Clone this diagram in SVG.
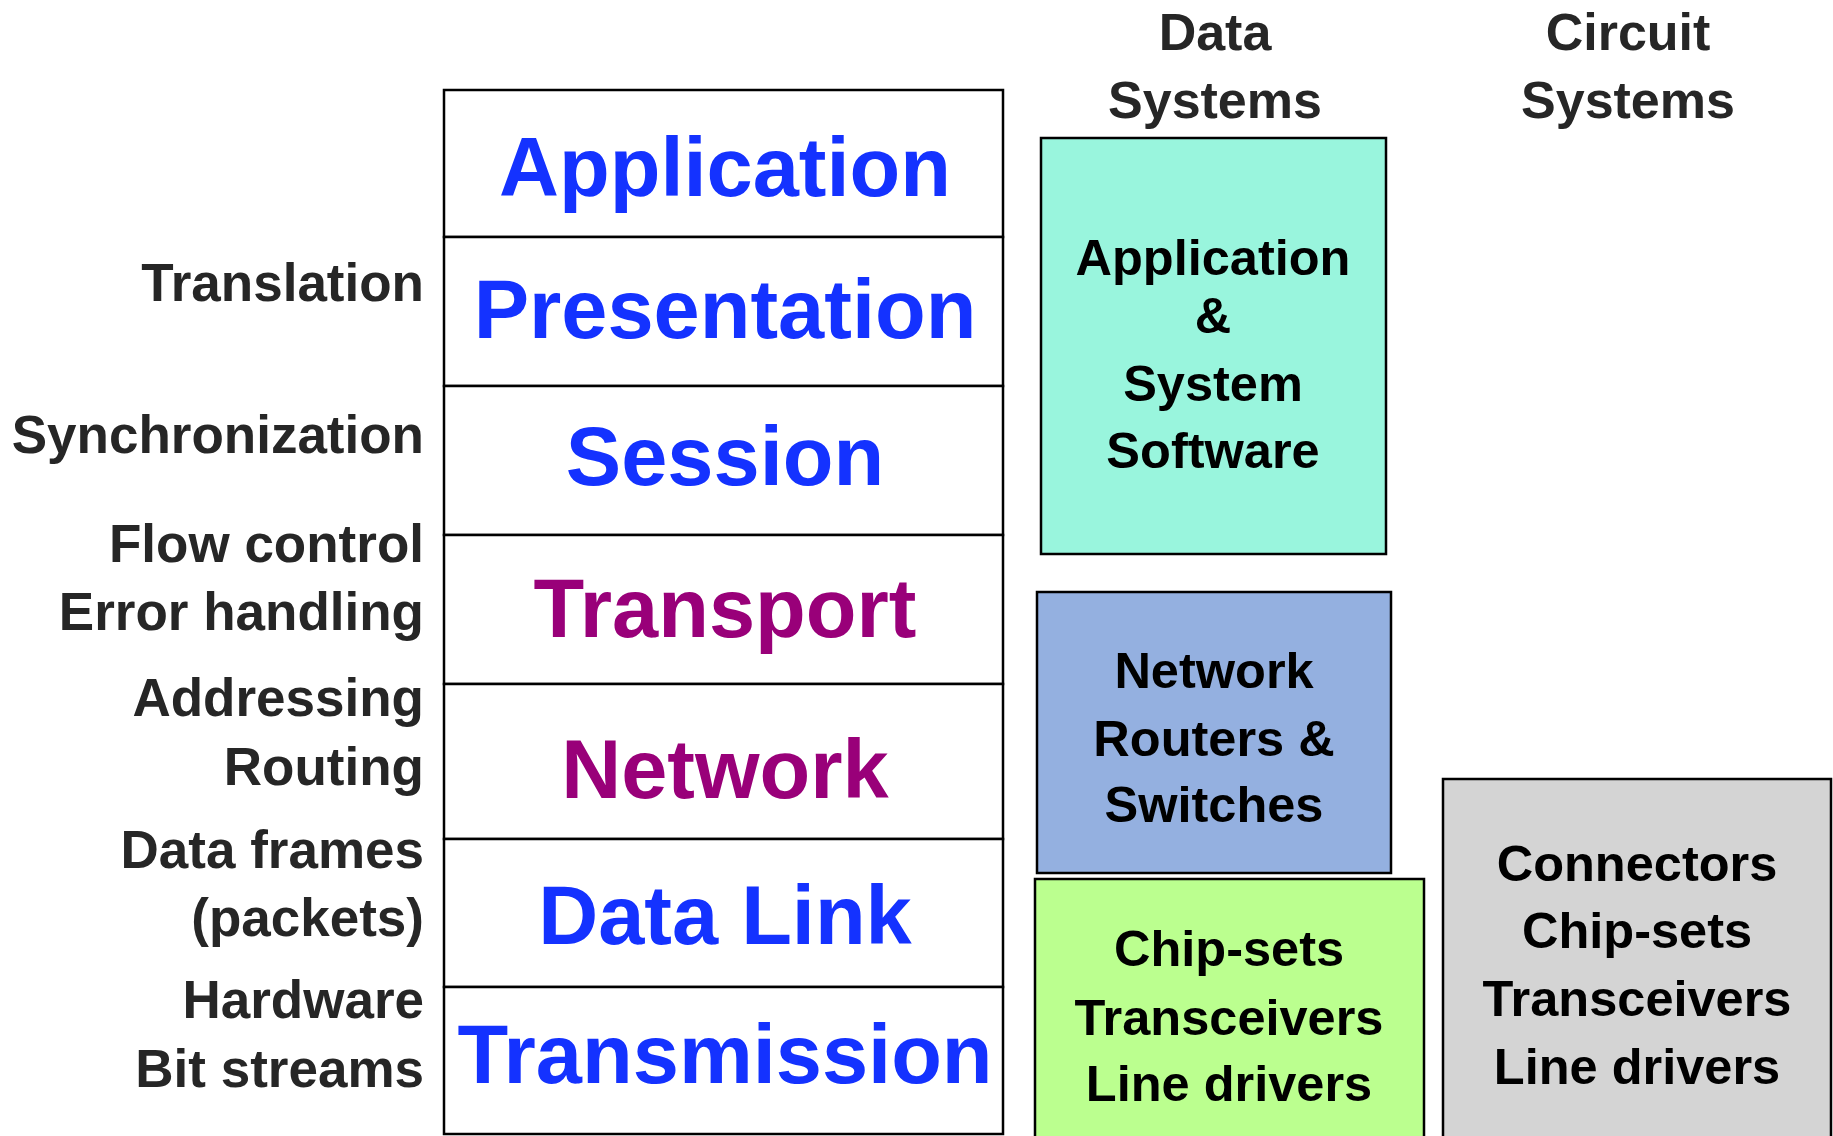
<svg xmlns="http://www.w3.org/2000/svg" width="1833" height="1136" viewBox="0 0 1833 1136">
<style>
text{font-family:"Liberation Sans",Arial,sans-serif;font-weight:bold;}
.lbl{font-size:53px;fill:#262626;text-anchor:end;}
.hdr{font-size:52px;fill:#262626;text-anchor:middle;}
.layer{font-size:83px;text-anchor:middle;}
.blue{fill:#1432FF;}
.purple{fill:#990079;}
.box{stroke:#000;stroke-width:2.5;}
.bt{font-size:50.5px;fill:#000;text-anchor:middle;}
.cell{fill:#fff;stroke:#000;stroke-width:2.5;}
</style>
<rect width="1833" height="1136" fill="#fff"/>
<g id="headers">
<text class="hdr" x="1215" y="50">Data</text>
<text class="hdr" x="1215" y="118">Systems</text>
<text class="hdr" x="1628" y="50">Circuit</text>
<text class="hdr" x="1628" y="118">Systems</text>
</g>
<g id="functions">
<text class="lbl" x="424" y="301">Translation</text>
<text class="lbl" x="424" y="453">Synchronization</text>
<text class="lbl" x="424" y="562">Flow control</text>
<text class="lbl" x="424" y="630">Error handling</text>
<text class="lbl" x="424" y="716">Addressing</text>
<text class="lbl" x="424" y="785">Routing</text>
<text class="lbl" x="424" y="868">Data frames</text>
<text class="lbl" x="424" y="936">(packets)</text>
<text class="lbl" x="424" y="1018">Hardware</text>
<text class="lbl" x="424" y="1087">Bit streams</text>
</g>
<g id="layer-application"><rect class="cell" x="444" y="90" width="559" height="147"/><text class="layer blue" x="725" y="196">Application</text></g>
<g id="layer-presentation"><rect class="cell" x="444" y="237" width="559" height="149"/><text class="layer blue" x="725" y="338">Presentation</text></g>
<g id="layer-session"><rect class="cell" x="444" y="386" width="559" height="149"/><text class="layer blue" x="725" y="485">Session</text></g>
<g id="layer-transport"><rect class="cell" x="444" y="535" width="559" height="149"/><text class="layer purple" x="725" y="637">Transport</text></g>
<g id="layer-network"><rect class="cell" x="444" y="684" width="559" height="155"/><text class="layer purple" x="725" y="798">Network</text></g>
<g id="layer-datalink"><rect class="cell" x="444" y="839" width="559" height="148"/><text class="layer blue" x="725" y="944">Data Link</text></g>
<g id="layer-transmission"><rect class="cell" x="444" y="987" width="559" height="147"/><text class="layer blue" x="725" y="1083">Transmission</text></g>
<g id="box-software">
<rect class="box" x="1041" y="138" width="345" height="416" fill="#99F5DD"/>
<text class="bt" x="1213" y="275">Application</text>
<text class="bt" x="1213" y="333">&amp;</text>
<text class="bt" x="1213" y="401">System</text>
<text class="bt" x="1213" y="468">Software</text>
</g>
<g id="box-routers">
<rect class="box" x="1037" y="592" width="354" height="281" fill="#94B0E0"/>
<text class="bt" x="1214" y="688">Network</text>
<text class="bt" x="1214" y="756">Routers &amp;</text>
<text class="bt" x="1214" y="822">Switches</text>
</g>
<g id="box-chipsets">
<rect class="box" x="1035" y="879" width="389" height="262" fill="#BBFF8F"/>
<text class="bt" x="1229" y="966">Chip-sets</text>
<text class="bt" x="1229" y="1035">Transceivers</text>
<text class="bt" x="1229" y="1101">Line drivers</text>
</g>
<g id="box-circuit">
<rect class="box" x="1443" y="779" width="388" height="362" fill="#D4D4D4"/>
<text class="bt" x="1637" y="881">Connectors</text>
<text class="bt" x="1637" y="948">Chip-sets</text>
<text class="bt" x="1637" y="1016">Transceivers</text>
<text class="bt" x="1637" y="1084">Line drivers</text>
</g>
<g id="connectors"></g>
</svg>
